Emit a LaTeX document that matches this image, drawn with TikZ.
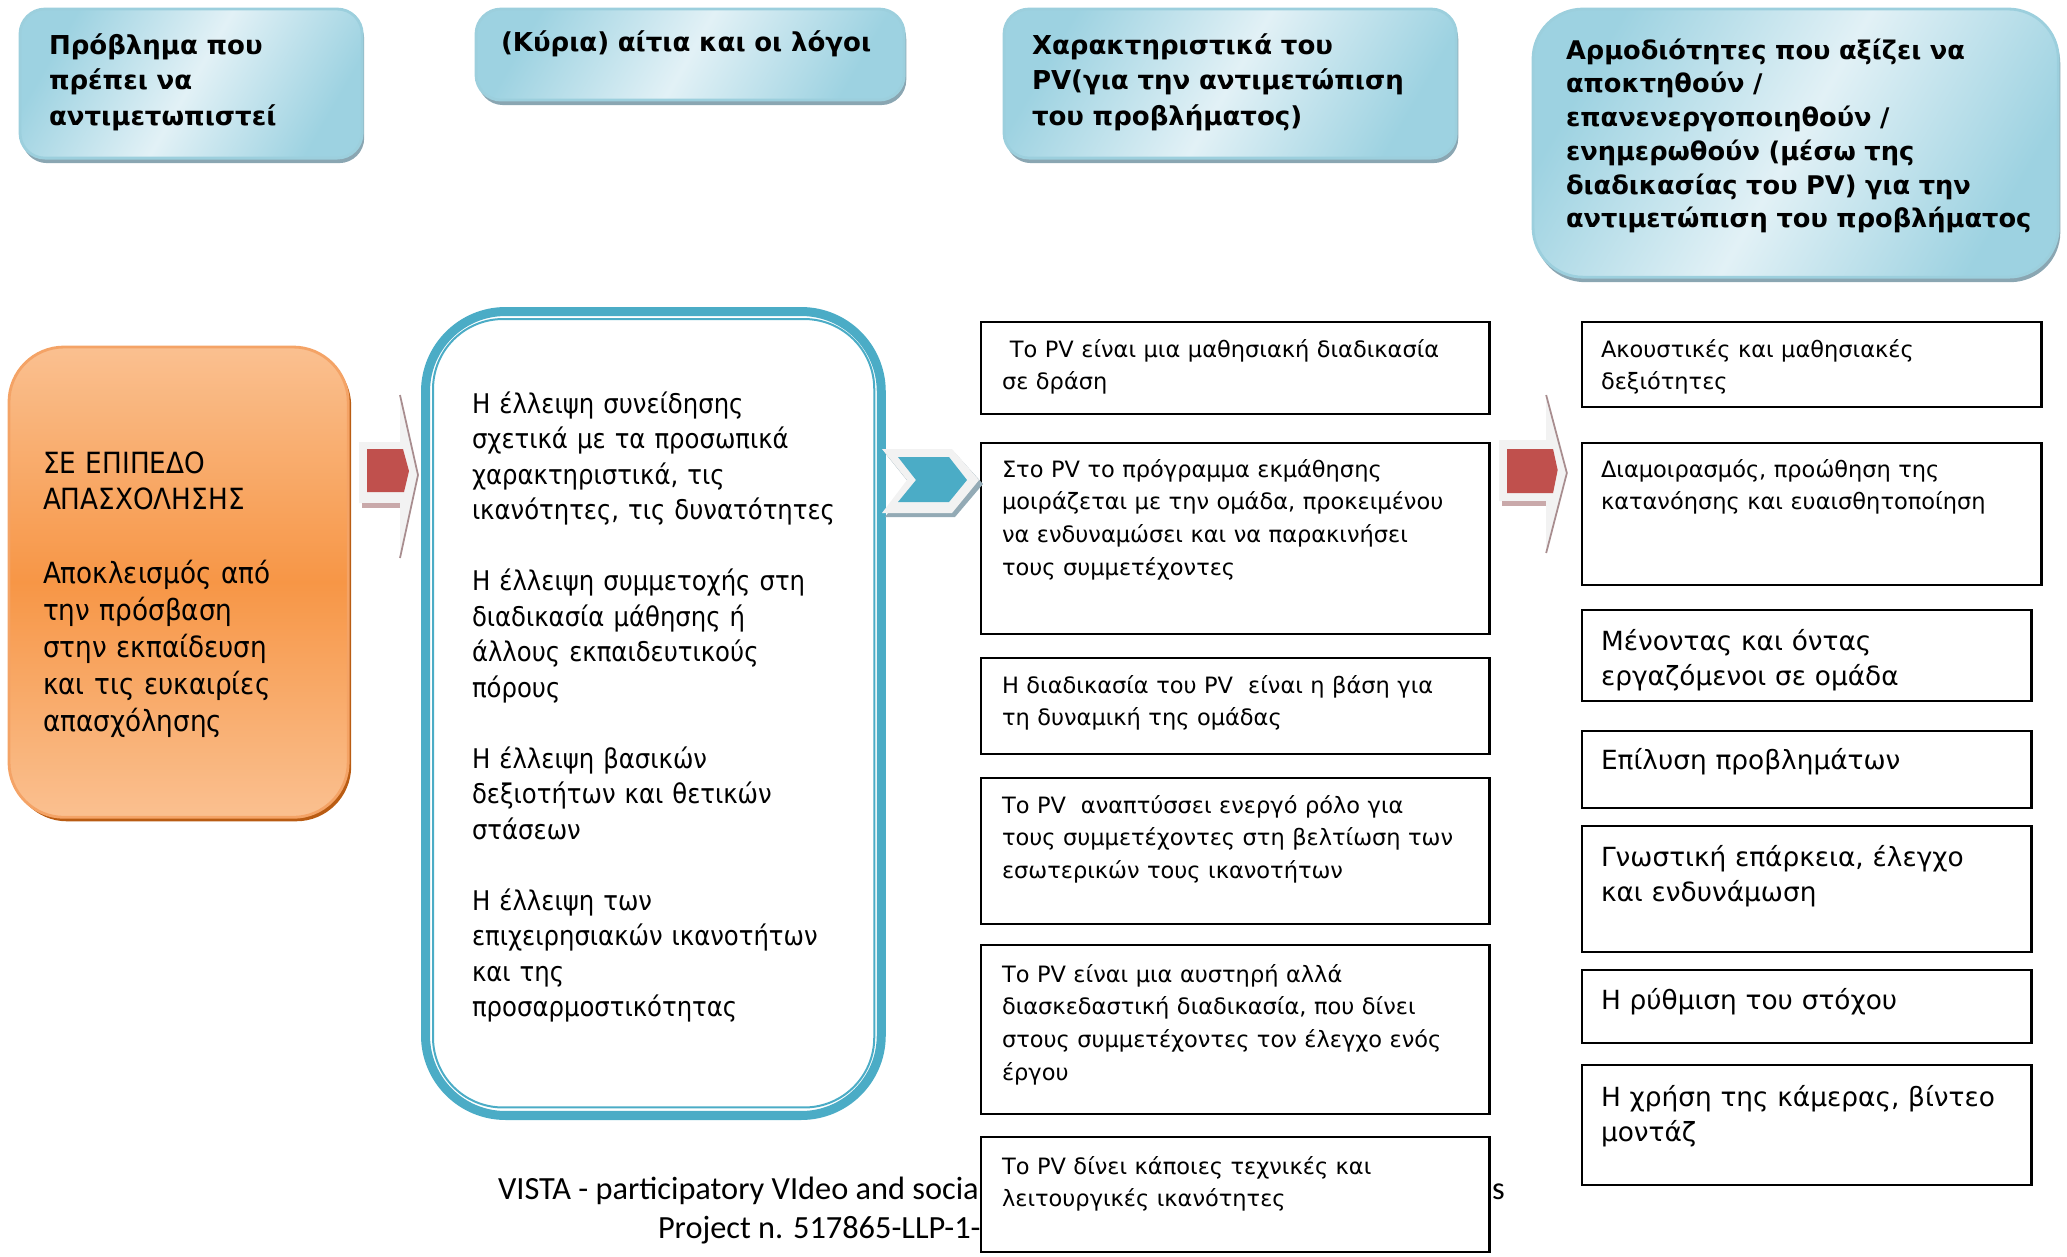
\documentclass[tikz,border=0pt]{standalone}
\usepackage{fontspec}
\setmainfont{DejaVu Sans}
\newfontfamily\narrowfont{DejaVu Sans}[FakeStretch=0.9]
\newfontfamily\carlito{Carlito}
\usetikzlibrary{shadows}

\definecolor{headdark}{HTML}{9DD2E1}
\definecolor{headlight}{HTML}{E2F1F6}
\definecolor{headedge}{HTML}{9CCFDD}
\definecolor{headshadow}{HTML}{8AA6B2}
\definecolor{orangemid}{HTML}{F79646}
\definecolor{orangelight}{HTML}{FAC090}
\definecolor{orangeedge}{HTML}{F4A366}
\definecolor{orangeshadow}{HTML}{B95C13}
\definecolor{pvblue}{HTML}{4BACC6}
\definecolor{pvred}{HTML}{C0504D}
\definecolor{arrowgray}{HTML}{F2F2F2}
\definecolor{arrowedge}{HTML}{A88D8F}
\definecolor{arrowshade}{HTML}{C9A9AA}
\definecolor{chevshade}{HTML}{93AAB5}

\newcommand{\headfont}{\bfseries\fontsize{7.4}{10.1}\selectfont}
\newcommand{\cellfont}{\fontsize{6.4}{9.3}\selectfont}
\newcommand{\skillfont}{\fontsize{7.5}{10.1}\selectfont}
\newcommand{\causefont}{\narrowfont\fontsize{7.7}{10.1}\selectfont}
\newcommand{\levelfont}{\narrowfont\fontsize{8.3}{10.5}\selectfont}
\newcommand{\footerfont}{\carlito\fontsize{9.2}{10.8}\selectfont}

\begin{document}
\begin{tikzpicture}[x=0.01cm, y=-0.01cm]
\tikzstyle{every node} = [inner sep=0pt, outer sep=0pt]
\tikzstyle{head} = [anchor=north west, draw=headedge, line width=0.8pt, rounded corners=0.25cm,
  left color=headdark, right color=headdark, middle color=headlight, shading angle=60,
  drop shadow={shadow xshift=0.02cm, shadow yshift=-0.05cm, fill=headshadow, opacity=1}]
\tikzstyle{headtxt} = [anchor=base west, text width=5.2cm, align=left, font=\headfont]
\tikzstyle{cell} = [anchor=north west, draw=black, line width=0.7pt, fill=white]
\tikzstyle{celltxt} = [anchor=base west, text width=5cm, align=left, font=\cellfont]
\tikzstyle{skilltxt} = [anchor=base west, text width=4.4cm, align=left, font=\skillfont]
\tikzstyle{foottxt} = [anchor=base west, font=\footerfont]

\useasboundingbox (0,0) rectangle (2067,1256);

% header row
\node[head, minimum width=3.42cm, minimum height=1.49cm] (probhead) at (20,9) {};
\node[head, minimum width=4.28cm, minimum height=0.91cm] (causehead) at (476,9) {};
\node[head, minimum width=4.52cm, minimum height=1.49cm] (pvhead) at (1004,9) {};
\node[head, minimum width=5.25cm, minimum height=2.68cm, rounded corners=0.5cm] (skillhead) at (1533,9) {};
\node[headtxt] (probheadt) at (49,54) {Πρόβλημα που\\πρέπει να\\αντιμετωπιστεί};
\node[headtxt] (causeheadt) at (501,51) {(Κύρια) αίτια και οι λόγοι};
\node[headtxt] (pvheadt) at (1032,54) {Χαρακτηριστικά του\\PV(για την αντιμετώπιση\\του προβλήματος)};
\node[headtxt, font={\bfseries\fontsize{7.3}{9.6}\selectfont}] (skillheadt) at (1566,59)
  {Αρμοδιότητες που αξίζει να\\αποκτηθούν /\\επανενεργοποιηθούν /\\ενημερωθούν (μέσω της\\διαδικασίας του PV) για την\\αντιμετώπιση του προβλήματος};

% problem
\node[anchor=north west, draw=orangeedge, line width=0.8pt, rounded corners=0.55cm,
  top color=orangelight, bottom color=orangelight, middle color=orangemid,
  drop shadow={shadow xshift=0.03cm, shadow yshift=-0.04cm, fill=orangeshadow, opacity=1},
  minimum width=3.39cm, minimum height=4.70cm] (problem) at (9,347) {};
\node[anchor=base west, text width=3cm, align=left, font=\levelfont] (problemt) at (43,473)
  {ΣΕ ΕΠΙΠΕΔΟ\\ΑΠΑΣΧΟΛΗΣΗΣ\\[\baselineskip]Αποκλεισμός από\\την πρόσβαση\\στην εκπαίδευση\\και τις ευκαιρίες\\απασχόλησης};

% causes
\node[anchor=north west, draw=pvblue, line width=0.09cm, rounded corners=0.8cm,
  minimum width=4.555cm, minimum height=8.035cm] (causes) at (425.5,311.5) {};
\node[anchor=north west, draw=pvblue, line width=0.02cm, rounded corners=0.7cm,
  minimum width=4.41cm, minimum height=7.88cm] (causesin) at (433,319) {};
\node[anchor=base west, text width=4cm, align=left, font=\causefont] (causest) at (472,413)
  {Η έλλειψη συνείδησης\\σχετικά με τα προσωπικά\\χαρακτηριστικά, τις\\ικανότητες, τις δυνατότητες\\[\baselineskip]%
   Η έλλειψη συμμετοχής στη\\διαδικασία μάθησης ή\\άλλους εκπαιδευτικούς\\πόρους\\[\baselineskip]%
   Η έλλειψη βασικών\\δεξιοτήτων και θετικών\\στάσεων\\[\baselineskip]%
   Η έλλειψη των\\επιχειρησιακών ικανοτήτων\\και της\\προσαρμοστικότητας};

% footer
\node[foottxt] (foot1) at (498,1199) {VISTA - participatory VIdeo and socia};
\node[foottxt] (foot1b) at (1492,1199) {s};
\node[foottxt] (foot2) at (658,1238) {Project n. 517865-LLP-1-2};

% PV features
\node[cell, minimum width=5.08cm, minimum height=0.92cm] (pv1) at (981,322) {};
\node[cell, minimum width=5.08cm, minimum height=1.91cm] (pv2) at (981,443) {};
\node[cell, minimum width=5.08cm, minimum height=0.96cm] (pv3) at (981,658) {};
\node[cell, minimum width=5.08cm, minimum height=1.46cm] (pv4) at (981,778) {};
\node[cell, minimum width=5.08cm, minimum height=1.69cm] (pv5) at (981,945) {};
\node[cell, minimum width=5.08cm, minimum height=1.15cm] (pv6) at (981,1137) {};
\node[celltxt] (pv1t) at (1002,357) {\hspace*{0.35em}Το PV είναι μια μαθησιακή διαδικασία\\σε δράση};
\node[celltxt] (pv2t) at (1002,477) {Στο PV το πρόγραμμα εκμάθησης\\μοιράζεται με την ομάδα, προκειμένου\\να ενδυναμώσει και να παρακινήσει\\τους συμμετέχοντες};
\node[celltxt] (pv3t) at (1002,693) {Η διαδικασία του PV~ είναι η βάση για\\τη δυναμική της ομάδας};
\node[celltxt] (pv4t) at (1002,813) {Το PV~ αναπτύσσει ενεργό ρόλο για\\τους συμμετέχοντες στη βελτίωση των\\εσωτερικών τους ικανοτήτων};
\node[celltxt] (pv5t) at (1002,982) {Το PV είναι μια αυστηρή αλλά\\διασκεδαστική διαδικασία, που δίνει\\στους συμμετέχοντες τον έλεγχο ενός\\έργου};
\node[celltxt] (pv6t) at (1002,1174) {Το PV δίνει κάποιες τεχνικές και\\λειτουργικές ικανότητες};

% skills
\node[cell, minimum width=4.59cm, minimum height=0.85cm] (sk1) at (1582,322) {};
\node[cell, minimum width=4.59cm, minimum height=1.42cm] (sk2) at (1582,443) {};
\node[cell, minimum width=4.49cm, minimum height=0.91cm] (sk3) at (1582,610) {};
\node[cell, minimum width=4.49cm, minimum height=0.77cm] (sk4) at (1582,731) {};
\node[cell, minimum width=4.49cm, minimum height=1.26cm] (sk5) at (1582,826) {};
\node[cell, minimum width=4.49cm, minimum height=0.73cm] (sk6) at (1582,970) {};
\node[cell, minimum width=4.49cm, minimum height=1.20cm] (sk7) at (1582,1065) {};
\node[celltxt] (sk1t) at (1601,357) {Ακουστικές και μαθησιακές\\δεξιότητες};
\node[celltxt] (sk2t) at (1601,477) {Διαμοιρασμός, προώθηση της\\κατανόησης και ευαισθητοποίηση};
\node[skilltxt] (sk3t) at (1601,650) {Μένοντας και όντας\\εργαζόμενοι σε ομάδα};
\node[skilltxt] (sk4t) at (1601,769) {Επίλυση προβλημάτων};
\node[skilltxt] (sk5t) at (1601,866) {Γνωστική επάρκεια, έλεγχο\\και ενδυνάμωση};
\node[skilltxt] (sk6t) at (1601,1009) {Η ρύθμιση του στόχου};
\node[skilltxt] (sk7t) at (1601,1106) {Η χρήση της κάμερας, βίντεο\\μοντάζ};

% block arrows
\begin{scope}[shift={(359,475)}]
\fill[arrowgray] (0,-33) -- (41,-33) -- (41,-80) -- (59,0) -- (41,83) -- (41,28) -- (0,28) -- cycle;
\fill[arrowshade] (3,28) rectangle (41,33);
\draw[arrowedge, line width=0.5pt] (41,-80) -- (59,0) -- (41,83);
\fill[pvred] (8,-26) -- (44,-26) -- (50,-4) -- (45,17) -- (8,17) -- cycle;
\end{scope}
\begin{scope}[shift={(1499,473)}, xscale=1.15]
\fill[arrowgray] (0,-33) -- (41,-33) -- (41,-78) -- (59,0) -- (41,80) -- (41,28) -- (0,28) -- cycle;
\fill[arrowshade] (3,28) rectangle (41,33);
\draw[arrowedge, line width=0.5pt] (41,-78) -- (59,0) -- (41,80);
\fill[pvred] (7,-24) -- (47,-24) -- (51,-3) -- (47,20) -- (7,20) -- cycle;
\end{scope}
\fill[chevshade] (885,453) -- (955,453) -- (983,484) -- (955,517) -- (885,517) -- (910,484) -- cycle;
\fill[arrowgray] (882,449) -- (952,449) -- (979,480) -- (952,513) -- (882,513) -- (907,480) -- cycle;
\fill[pvblue] (898,457) -- (949,457) -- (967,480) -- (949,502) -- (898,502) -- (916,480) -- cycle;
\end{tikzpicture}
\end{document}
